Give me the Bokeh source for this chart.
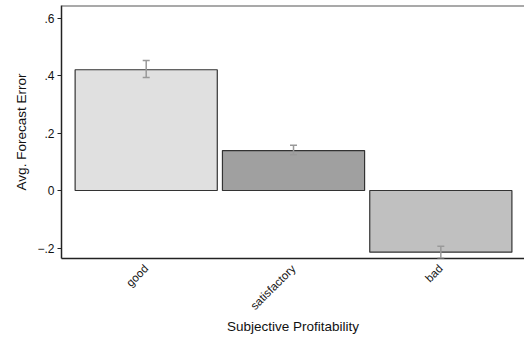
import math
from bokeh.plotting import figure
from bokeh.models import ColumnDataSource, Whisker, TeeHead, FixedTicker, Range1d, Span
from bokeh.embed import file_html
from bokeh.resources import INLINE

categories = ["good", "satisfactory", "bad"]
means = [0.420, 0.139, -0.2146]
ci_upper = [0.452, 0.157, -0.194]
ci_lower = [0.393, 0.124, -0.236]
colors = ["#e0e0e0", "#a0a0a0", "#c0c0c0"]
y_ticks = [-0.2, 0, 0.2, 0.4, 0.6]
y_tick_labels = ["\u2212.2", "0", ".2", ".4", ".6"]

xs = list(range(len(categories)))
src = ColumnDataSource(dict(x=xs, top=means, upper=ci_upper, lower=ci_lower, color=colors))

p = figure(frame_width=463, frame_height=253, output_backend="svg", toolbar_location=None,
           x_range=Range1d(-0.575, 2.568), y_range=Range1d(-0.2365, 0.6435),
           min_border_left=61, min_border_right=0, min_border_top=5, min_border_bottom=70)
p.outline_line_color = None
p.grid.grid_line_color = None
p.background_fill_color = "white"

p.vbar(x="x", top="top", bottom=0, width=0.965, fill_color="color",
       line_color="#333333", line_width=1.2, source=src)

w = Whisker(base="x", upper="upper", lower="lower", source=src, level="overlay",
            line_color="#999999", line_width=1.5,
            upper_head=TeeHead(size=7, line_color="#999999", line_width=1.5),
            lower_head=TeeHead(size=7, line_color="#999999", line_width=1.5))
p.add_layout(w)

p.add_layout(Span(location=0.6435, dimension="width", line_color="#555555", line_width=2))

font = "Liberation Sans"
p.xaxis.ticker = FixedTicker(ticks=xs)
p.xaxis.major_label_overrides = {i: c for i, c in enumerate(categories)}
p.xaxis.major_label_orientation = math.pi / 4
p.xaxis.minor_tick_line_color = None
p.xaxis.major_label_standoff = 2
p.xaxis.axis_label = "Subjective Profitability"

p.yaxis.ticker = FixedTicker(ticks=y_ticks)
p.yaxis.major_label_overrides = {t: l for t, l in zip(y_ticks, y_tick_labels)}
p.yaxis.minor_tick_line_color = None
p.yaxis.major_tick_out = 4
p.yaxis.major_tick_in = 0
p.yaxis.major_label_standoff = 3
p.yaxis.axis_label = "Avg. Forecast Error"

for ax in (p.xaxis, p.yaxis):
    ax.axis_line_color = "#222222"
    ax.axis_line_width = 1.5
    ax.major_label_text_font = font
    ax.major_label_text_font_size = "11.5px"
    ax.major_label_text_color = "#111111"
    ax.axis_label_text_font = font
    ax.axis_label_text_font_size = "13.5px"
    ax.axis_label_text_font_style = "normal"
    ax.axis_label_text_color = "#111111"

p.yaxis.major_label_text_font_size = "12px"
p.yaxis.major_tick_line_color = "#222222"
p.xaxis.major_tick_line_color = None
p.xaxis.axis_label_standoff = 0
p.yaxis.axis_label_standoff = 5

open("out.html", "w").write(file_html(p, INLINE))
